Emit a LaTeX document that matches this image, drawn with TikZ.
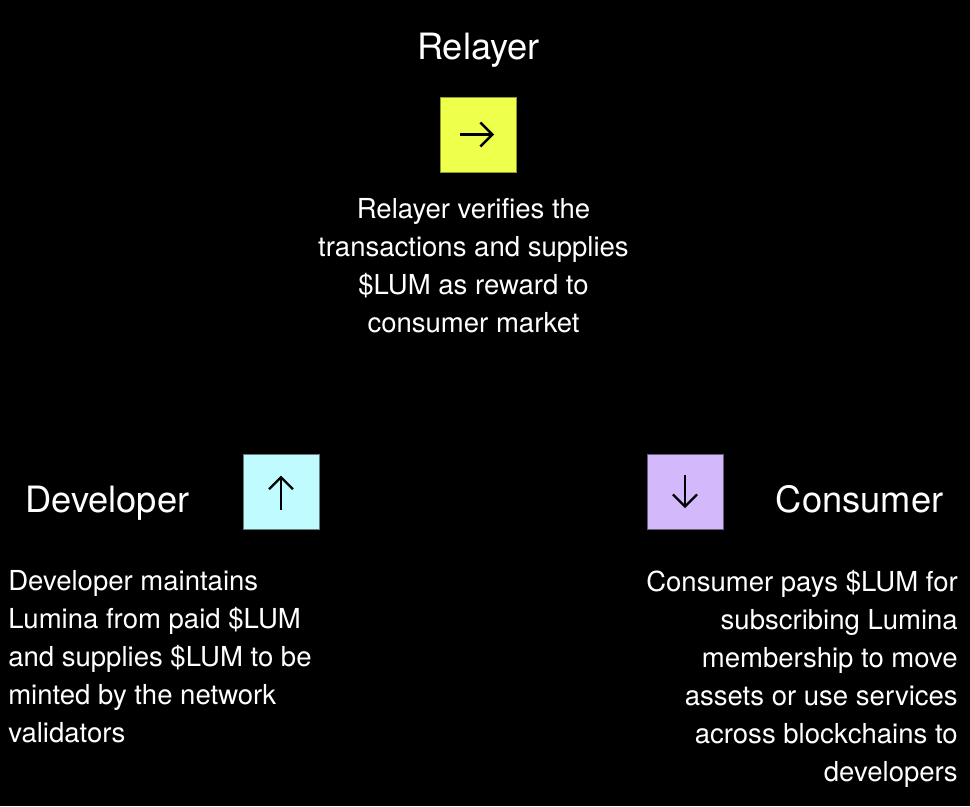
\documentclass[tikz,border=0pt]{standalone}
\usepackage{fontspec}
\setmainfont{TeX Gyre Heros}
\usetikzlibrary{arrows.meta}
\definecolor{bg}{HTML}{000000}
\definecolor{yel}{HTML}{EEFF4C}
\definecolor{cya}{HTML}{BFFBFF}
\definecolor{lav}{HTML}{D3B8FC}
\tikzset{
  px/.style={x=0.75pt,y=-0.75pt},
  heading/.style={text=white,inner sep=0pt,font=\fontsize{27.2}{30}\selectfont},
  para/.style={text=white,inner sep=0pt,font=\fontsize{20.65}{28.5}\selectfont},
  iconbox/.style={minimum width=57pt,minimum height=56.25pt,inner sep=0pt,line width=0.6pt},
  arr/.style={line width=1.8pt,-{Straight Barb[length=9pt,width=18pt,line width=1.8pt]}}
}
\begin{document}
\begin{tikzpicture}[px]
\useasboundingbox[fill=bg] (0,0) rectangle (970,806);
% Relayer
\node[heading,anchor=base] (rh) at (478.5,60) {Relayer};
\node[iconbox,fill=yel,draw=yel!60!black] (rb) at (478,134.5) {};
\draw[arr] ([xshift=-13.5pt]rb.center) -- ([xshift=12pt]rb.center);
\node[para,align=center,anchor=north] (rp) at (473.5,198.5) {Relayer verifies the\\transactions and supplies\\\$LUM as reward to\\consumer market};
% Developer
\node[heading,anchor=base west] (dh) at (25,512) {Developer};
\node[iconbox,fill=cya,draw=cya!50!black] (db) at (281,491.5) {};
\draw[arr] ([yshift=-13.5pt]db.center) -- ([yshift=12pt]db.center);
\node[para,align=left,anchor=north west] (dp) at (8,570.5) {Developer maintains\\Lumina from paid \$LUM\\and supplies \$LUM to be\\minted by the network\\validators};
% Consumer
\node[heading,anchor=base east] (ch) at (943.5,512) {Consumer};
\node[iconbox,fill=lav,draw=lav!50!black] (cb) at (685,491.5) {};
\draw[arr] ([yshift=12.5pt]cb.center) -- ([yshift=-12.5pt]cb.center);
\node[para,align=right,anchor=north east] (cp) at (958,570.5) {Consumer pays \$LUM for\\subscribing Lumina\\membership to move\\assets or use services\\across blockchains to\\developers};
\end{tikzpicture}
\end{document}
